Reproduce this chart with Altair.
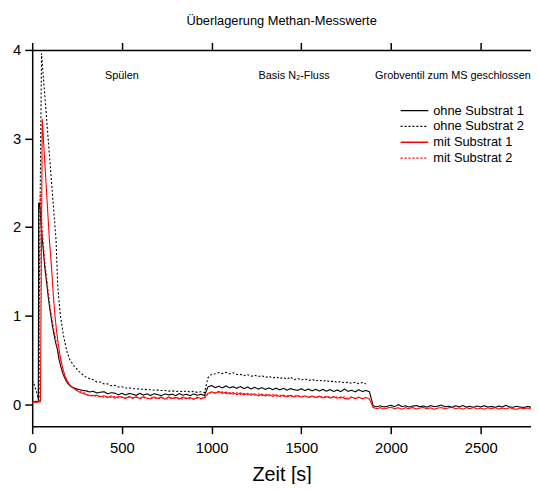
import altair as alt
import pandas as pd

# ---------------- data ----------------
SERIES = ["ohne Substrat 1", "ohne Substrat 2", "mit Substrat 1", "mit Substrat 2"]
COLORS = ["#000000", "#000000", "#ff0000", "#ff0000"]
DASHES = [[1, 0], [2, 2], [1, 0], [2, 2]]

STEP = 20  # sampling step of the tail segments [s]

# ohne Substrat 1
ohne1_head_t = [0, 10, 20, 30, 34, 36, 40, 44, 50, 60, 70, 80, 90, 100, 110, 120, 130, 140, 150,
                160, 170, 180, 190, 200, 210, 220, 230, 240, 250, 260, 270, 280, 290]
ohne1_head_v = [0.030, 0.025, 0.032, 0.028, 0.030, 2.27, 2.27, 2.20, 2.02, 1.78, 1.55, 1.38, 1.20,
                1.05, 0.92, 0.80, 0.70, 0.62, 0.50, 0.42, 0.35, 0.30, 0.26, 0.23, 0.21, 0.195,
                0.185, 0.178, 0.170, 0.165, 0.160, 0.156, 0.152]
ohne1_a = [0.150, 0.138, 0.145, 0.126, 0.134, 0.140, 0.118, 0.128, 0.124, 0.106, 0.122, 0.104,
           0.120, 0.112, 0.098, 0.122, 0.102, 0.116, 0.097, 0.118, 0.108, 0.094, 0.116, 0.103,
           0.113, 0.096, 0.119, 0.101, 0.111, 0.095, 0.116, 0.100, 0.112, 0.097]
ohne1_b = [0.195, 0.210, 0.186, 0.202, 0.183, 0.206, 0.184, 0.197, 0.178, 0.199, 0.176, 0.192,
           0.172, 0.190, 0.170, 0.186, 0.166, 0.183, 0.164, 0.180, 0.160, 0.178, 0.158, 0.175,
           0.162, 0.155, 0.174, 0.153, 0.171, 0.150, 0.168, 0.148, 0.166, 0.146, 0.164, 0.143,
           0.160, 0.141, 0.170, 0.144, 0.157, 0.139, 0.163, 0.142, 0.155, 0.138]
ohne1_c = [-0.018, -0.030, -0.020, -0.032, -0.024, -0.014, -0.029, -0.006, -0.028, -0.019,
           -0.033, -0.022, -0.016, -0.030, -0.021, -0.034, -0.017, -0.029, -0.023, -0.011,
           -0.031, -0.024, -0.035, -0.019, -0.030, -0.017, -0.033, -0.025, -0.036, -0.021,
           -0.031, -0.018, -0.034, -0.026, -0.037, -0.022, -0.032, -0.014, -0.031, -0.036,
           -0.024, -0.033, -0.038, -0.026, -0.036]

# ohne Substrat 2
ohne2_head_t = [0, 8, 16, 24, 30, 34, 52, 133, 142, 150, 157, 166, 175, 185, 194, 210, 234,
                260, 280, 290]
ohne2_head_v = [0.27, 0.24, 0.19, 0.14, 0.09, 0.06, 3.96, 1.85, 1.35, 1.15, 1.00, 0.88, 0.77,
                0.67, 0.59, 0.50, 0.43, 0.37, 0.335, 0.32]
ohne2_a = [0.305, 0.286, 0.276, 0.251, 0.249, 0.228, 0.229, 0.208, 0.212, 0.194, 0.196, 0.182,
           0.184, 0.174, 0.174, 0.168, 0.169, 0.163, 0.162, 0.157, 0.159, 0.153, 0.154, 0.147,
           0.150, 0.144, 0.146, 0.139, 0.149, 0.136, 0.144, 0.133, 0.140, 0.131]
ohne2_b = [0.300, 0.338, 0.342, 0.356, 0.345, 0.359, 0.341, 0.354, 0.334, 0.336, 0.321, 0.334,
           0.314, 0.326, 0.311, 0.322, 0.301, 0.314, 0.294, 0.306, 0.288, 0.302, 0.281, 0.306,
           0.276, 0.289, 0.272, 0.286, 0.266, 0.279, 0.262, 0.274, 0.256, 0.269, 0.251, 0.262,
           0.244, 0.256, 0.238, 0.249, 0.234, 0.247, 0.231, 0.244, 0.228]

# mit Substrat 1
mit1_head_t = [0, 10, 20, 30, 40, 46, 56, 96, 102, 110, 118, 127, 135, 145, 155, 165, 175, 185,
               195, 210, 225, 240, 255, 270, 285]
mit1_head_v = [0.020, 0.028, 0.018, 0.025, 0.022, 0.030, 3.22, 1.85, 1.70, 1.47, 1.22, 1.00,
               0.84, 0.68, 0.55, 0.45, 0.37, 0.31, 0.26, 0.215, 0.185, 0.165, 0.145, 0.130, 0.118]
mit1_a = [0.110, 0.094, 0.096, 0.100, 0.081, 0.094, 0.074, 0.092, 0.068, 0.086, 0.080, 0.064,
          0.088, 0.068, 0.083, 0.062, 0.084, 0.066, 0.058, 0.082, 0.065, 0.078, 0.056, 0.081,
          0.064, 0.077, 0.057, 0.080, 0.062, 0.075, 0.055, 0.078, 0.063, 0.074]
mit1_b = [0.120, 0.139, 0.124, 0.144, 0.121, 0.136, 0.114, 0.130, 0.108, 0.126, 0.104, 0.120,
          0.100, 0.116, 0.094, 0.112, 0.092, 0.108, 0.088, 0.105, 0.086, 0.101, 0.082, 0.099,
          0.080, 0.096, 0.078, 0.094, 0.075, 0.092, 0.074, 0.089, 0.070, 0.087, 0.068, 0.084,
          0.066, 0.082, 0.064, 0.056, 0.079, 0.062, 0.077, 0.060, 0.074, 0.056]
mit1_c = [-0.038, -0.050, -0.040, -0.055, -0.043, -0.035, -0.053, -0.041, -0.058, -0.040,
          -0.052, -0.037, -0.056, -0.044, -0.038, -0.054, -0.041, -0.059, -0.045, -0.039,
          -0.055, -0.042, -0.036, -0.053, -0.043, -0.057, -0.040, -0.052, -0.038, -0.055,
          -0.044, -0.058, -0.041, -0.053, -0.039, -0.056, -0.043, -0.054, -0.040, -0.052,
          -0.059, -0.042, -0.053, -0.044, -0.056]

# mit Substrat 2
mit2_head_t = [0, 10, 20, 30, 40, 45, 50, 60, 70, 80, 90, 100, 110, 120, 130, 140, 150, 160,
               170, 180, 190, 200, 215, 230, 245, 260, 275, 290]
mit2_head_v = [0.025, 0.020, 0.030, 0.022, 0.028, 2.38, 2.15, 1.85, 1.62, 1.44, 1.26, 1.10, 0.97,
               0.85, 0.74, 0.65, 0.54, 0.45, 0.37, 0.31, 0.27, 0.24, 0.205, 0.185, 0.170, 0.155,
               0.142, 0.130]
mit2_a = [0.112, 0.098, 0.099, 0.086, 0.092, 0.078, 0.089, 0.073, 0.084, 0.070, 0.082, 0.067,
          0.080, 0.065, 0.078, 0.063, 0.076, 0.061, 0.074, 0.064, 0.059, 0.075, 0.062, 0.058,
          0.073, 0.060, 0.071, 0.057, 0.070, 0.059, 0.056, 0.069, 0.058, 0.068]
mit2_b = [0.115, 0.132, 0.128, 0.130, 0.138, 0.118, 0.132, 0.113, 0.128, 0.108, 0.123, 0.104,
          0.119, 0.100, 0.115, 0.096, 0.111, 0.092, 0.107, 0.090, 0.103, 0.086, 0.101, 0.084,
          0.098, 0.082, 0.095, 0.079, 0.093, 0.077, 0.091, 0.075, 0.089, 0.073, 0.086, 0.071,
          0.084, 0.068, 0.082, 0.066, 0.080, 0.064, 0.078, 0.062, 0.075]

SEG_A_START, SEG_B_START, SEG_C_START = 300, 980, 1900

# annotations
ANN_TEXT = ["Spülen", "Basis N₂-Fluss", "Grobventil zum MS geschlossen"]
ANN_T = [500, 1460, 2345]
ANN_V = [3.71, 3.71, 3.71]

X_TICKS = [0, 500, 1000, 1500, 2000, 2500]
Y_TICKS = [0, 1, 2, 3, 4]
X_DOMAIN = [0, 2780]
Y_DOMAIN = [-0.25, 4.0]


def rows(name, head_t, head_v, segments):
    out = [{"t": t, "v": v, "s": name} for t, v in zip(head_t, head_v)]
    for start, vals in segments:
        out += [{"t": start + STEP * i, "v": v, "s": name} for i, v in enumerate(vals)]
    return out


data = []
data += rows(SERIES[0], ohne1_head_t, ohne1_head_v,
             [(SEG_A_START, ohne1_a), (SEG_B_START, ohne1_b), (SEG_C_START, ohne1_c)])
data += rows(SERIES[1], ohne2_head_t, ohne2_head_v,
             [(SEG_A_START, ohne2_a), (SEG_B_START, ohne2_b)])
data += rows(SERIES[2], mit1_head_t, mit1_head_v,
             [(SEG_A_START, mit1_a), (SEG_B_START, mit1_b), (SEG_C_START, mit1_c)])
data += rows(SERIES[3], mit2_head_t, mit2_head_v,
             [(SEG_A_START, mit2_a), (SEG_B_START, mit2_b)])
df = pd.DataFrame(data)
df["o"] = range(len(df))

ann = pd.DataFrame({"text": ANN_TEXT, "t": ANN_T, "v": ANN_V})

FONT = "Liberation Sans"

x_scale = alt.Scale(domain=X_DOMAIN, nice=False, zero=False)
y_scale = alt.Scale(domain=Y_DOMAIN, nice=False, zero=False)
y_axis = alt.Axis(values=Y_TICKS, title=None, format="d", orient="left")

color = alt.Color("s:N", scale=alt.Scale(domain=SERIES, range=COLORS),
                  legend=alt.Legend(title=None, orient="none", legendX=372, legendY=53.6,
                                    symbolType="stroke", symbolSize=784, symbolStrokeWidth=1.3,
                                    labelFontSize=13, labelFont=FONT, labelColor="#000",
                                    labelOffset=4, rowPadding=0, clipHeight=15.7, padding=0))
dash = alt.StrokeDash("s:N", scale=alt.Scale(domain=SERIES, range=DASHES), legend=None)

base = alt.Chart(df).mark_line(strokeWidth=1.1, clip=True).encode(
    x=alt.X("t:Q", scale=x_scale,
            axis=alt.Axis(values=X_TICKS, title="Zeit [s]", labelFlush=False, format="d",
                          labelPadding=7, titleFontSize=20, titlePadding=9, orient="bottom")),
    y=alt.Y("v:Q", scale=y_scale, axis=y_axis),
    color=color,
    strokeDash=dash,
    order="o:Q",
)

draw_order = [SERIES[1], SERIES[0], SERIES[3], SERIES[2]]
lines = alt.layer(*[base.transform_filter(alt.datum.s == name) for name in draw_order])

texts = alt.Chart(ann).mark_text(fontSize=11, font=FONT, color="#000", baseline="middle").encode(
    x=alt.X("t:Q", scale=x_scale,
            axis=alt.Axis(orient="top", values=X_TICKS, labels=False, title=None)),
    y=alt.Y("v:Q", scale=y_scale, axis=y_axis),
    text="text:N",
)

chart = alt.layer(lines, texts).resolve_scale(x="independent").resolve_axis(
    x="independent"
).properties(
    width=505, height=381,
    title=alt.Title("Überlagerung Methan-Messwerte", fontSize=13, font=FONT,
                    fontWeight="normal", color="#000", offset=14),
    autosize=alt.AutoSizeParams(type="none"),
    padding={"left": 24.5, "top": 39.5, "right": 0, "bottom": 55},
).configure_view(stroke=None).configure_axis(
    domainColor="#000", domainWidth=1.5, tickColor="#000", tickWidth=1.5, tickSize=7.5,
    labelFont=FONT, labelFontSize=15, labelColor="#000", labelPadding=4,
    titleFont=FONT, titleFontWeight="normal", titleColor="#000", grid=False,
)

chart.save("out.html", embed_options={"renderer": "svg", "actions": False})
